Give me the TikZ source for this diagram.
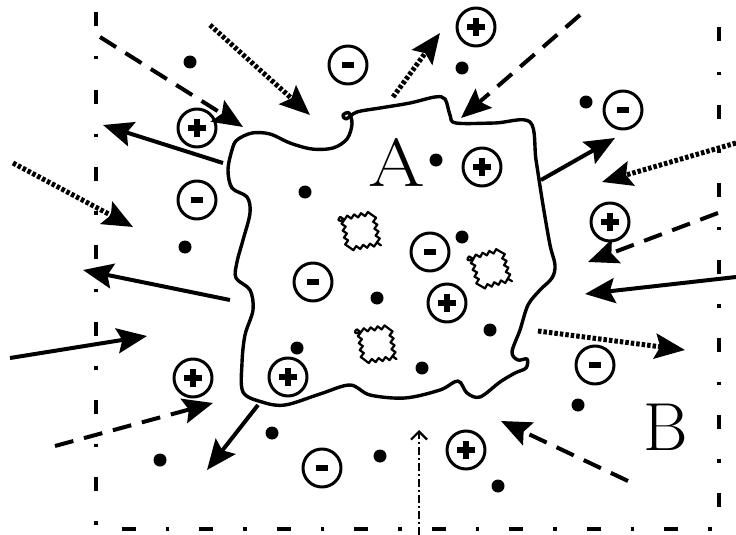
\documentclass[tikz,border=0pt]{standalone}
\usetikzlibrary{arrows.meta,decorations.pathmorphing}
\begin{document}
\begin{tikzpicture}[x=1pt, y=-1pt, line join=round,
	ion/.style={circle, draw, line width=3pt, minimum size=38pt, inner sep=0pt},
	cation/.style={ion, path picture={\draw[line width=5.5pt] (path picture bounding box.center) ++(-9pt,0pt) -- ++(18pt,0pt)
			(path picture bounding box.center) ++(0pt,-9pt) -- ++(0pt,18pt);}},
	anion/.style={ion, path picture={\draw[line width=5.5pt] (path picture bounding box.center) ++(-6pt,0pt) -- ++(12pt,0pt);}},
	particle/.style={circle, fill, minimum size=13pt, inner sep=0pt},
	flow/.style={line width=4pt, -{Stealth[length=30pt,width=25pt,inset=5pt]}},
	flowdash/.style={flow, dash pattern=on 19pt off 11pt},
	flowdot/.style={flow, line width=5pt, dash pattern=on 3.5pt off 2pt},
	wavy/.style={line width=2.2pt, decorate, decoration={snake, amplitude=1.8pt, segment length=7pt}},
	big/.style={font=\fontsize{68}{68}\selectfont, inner sep=0pt}]
	\def\xmin{96};\def\xmax{719};\def\ymin{12};\def\ymax{529};
	\useasboundingbox (0,0) rectangle (736,535);
	% system B
	\draw[line width=4pt, dash pattern=on 14pt off 30pt on 3.5pt off 30pt]
		(\xmin,\ymin) -- (\xmin,\ymax) -- (\xmax,\ymax) -- (\xmax,\ymin);
	\node[big, anchor=base] (B) at (666,450) {B};
	% system A
	\draw[line width=3.4pt] plot[smooth cycle, tension=0.55] coordinates {
		(237,140) (252,133) (270,134) (290,143) (312,149) (333,148) (347,139) (352,124)
		(349,113) (343,115) (346,119) (357,112) (380,108) (410,103) (435,97) (445,99)
		(450,115) (456,123) (495,123) (530,122) (536,160) (543,205) (550,245) (555,265)
		(552,278) (540,290) (528,305) (520,330) (512,352) (518,360) (527,359) (526,368)
		(515,373) (500,382) (480,397) (467,393) (458,381) (440,390) (405,398) (370,395)
		(350,385) (320,394) (285,405) (262,402) (243,392) (242,363) (245,335) (253,310)
		(250,290) (236,278) (237,262) (243,240) (250,213) (247,197) (232,188) (228,170)
		(232,150)};
	\node[big, anchor=base] (A) at (397,186) {\scalebox{1.2}[1]{A}};
	\foreach \cx/\cy/\ang in {357/232/10, 487/270/15, 373/345/8}
		\draw[wavy, shift={(\cx,\cy)}, rotate=\ang] (-16,-16) -- (16,-16) -- (16,16) -- (-16,16) -- cycle;
	% ions
	\node[cation] (p1) at (476,27) {};
	\node[cation] (p2) at (197,128) {};
	\node[cation] (p3) at (482,167) {};
	\node[cation] (p4) at (610,222) {};
	\node[cation] (p5) at (447,303) {};
	\node[cation] (p6) at (193,378) {};
	\node[cation] (p7) at (288,377) {};
	\node[cation] (p8) at (466,450) {};
	\node[anion] (n1) at (348,65) {};
	\node[anion] (n2) at (623,110) {};
	\node[anion] (n3) at (197,200) {};
	\node[anion] (n4) at (430,252) {};
	\node[anion] (n5) at (313,282) {};
	\node[anion] (n6) at (595,365) {};
	\node[anion] (n7) at (322,468) {};
	% neutral particles
	\foreach \px/\py [count=\i] in {190/62, 462/68, 586/102, 436/160, 305/192, 185/247, 462/237,
		377/298, 490/330, 297/348, 422/368, 578/405, 272/433, 160/460, 380/456, 498/486}
		\node[particle] (d\i) at (\px,\py) {};
	% flows
	\draw[flow] (223,163) -- (103,125);
	\draw[flow] (230,300) -- (83,270);
	\draw[flow] (10,358) -- (147,336);
	\draw[flow] (258,405) -- (207,470);
	\draw[flow] (541,180) -- (615,138);
	\draw[flow] (736,277) -- (585,294);
	\draw[flowdash] (100,37) -- (243,127);
	\draw[flowdash] (580,15) -- (461,118);
	\draw[flowdash] (718,213) -- (588,262);
	\draw[flowdash] (55,446) -- (213,403);
	\draw[flowdash] (628,481) -- (501,421);
	\draw[flowdot] (210,25) -- (310,115);
	\draw[flowdot] (393,97) -- (440,33);
	\draw[flowdot] (13,163) -- (133,227);
	\draw[flowdot] (736,143) -- (602,182);
	\draw[flowdot] (538,331) -- (685,350);
	\draw[line width=2.8pt, dash pattern=on 8pt off 3pt on 2pt off 3pt,
		-{Straight Barb[length=8pt,width=16pt,line width=2.2pt]}] (419,535) -- (419,430);
\end{tikzpicture}
\end{document}
